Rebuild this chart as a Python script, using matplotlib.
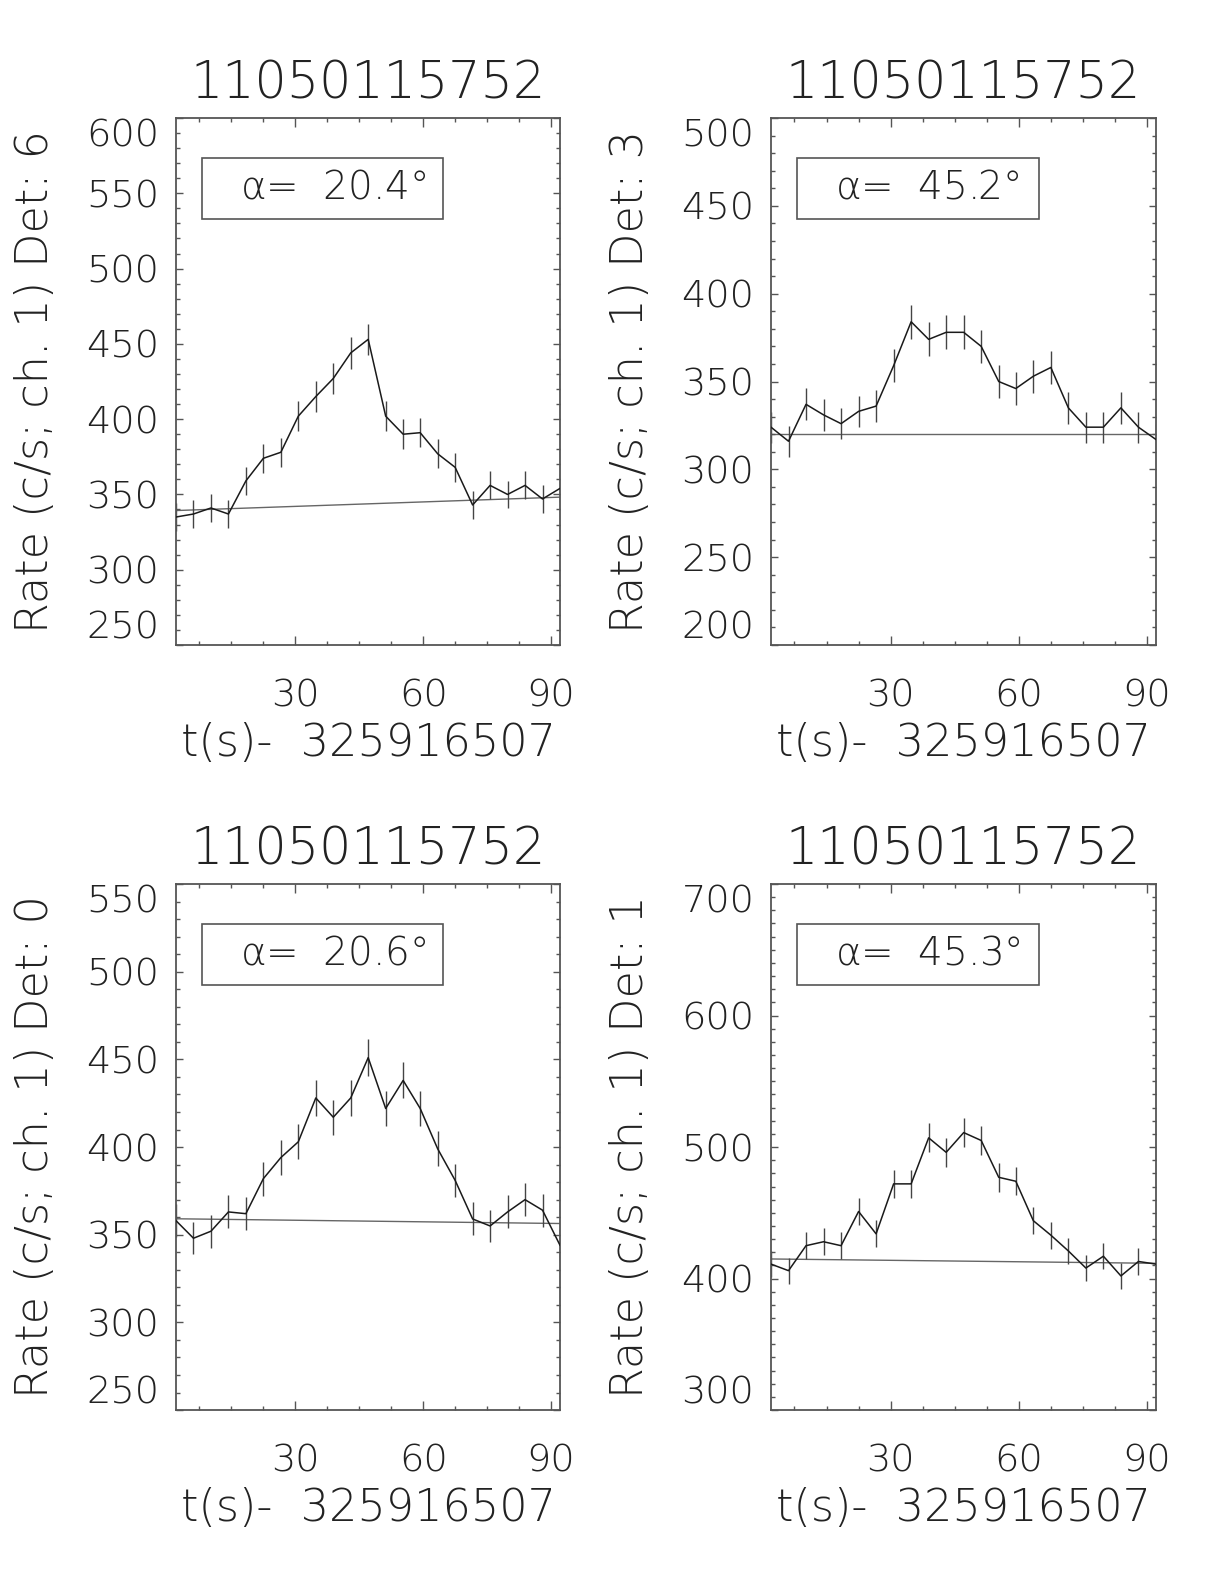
import matplotlib
matplotlib.use("Agg")
import matplotlib.pyplot as plt
from matplotlib.patches import Rectangle
from matplotlib.ticker import MultipleLocator

plt.rcParams["font.family"] = ["DejaVu Sans"]
plt.rcParams["font.weight"] = 200
plt.rcParams["axes.titleweight"] = 200
plt.rcParams["axes.labelweight"] = 200
plt.rcParams["mathtext.fontset"] = "custom"
plt.rcParams["mathtext.it"] = "DejaVu Sans:extralight"
plt.rcParams["mathtext.rm"] = "DejaVu Sans:extralight"

# time bins (s) after 325916507
T = [2.0, 6.1, 10.2, 14.3, 18.4, 22.5, 26.6, 30.7, 34.8, 38.9, 43.0, 47.1,
     51.2, 55.3, 59.3, 63.4, 67.5, 71.6, 75.7, 79.8, 83.9, 88.0, 92.1]

TITLE = "11050115752"
XLABEL = "t(s)-  325916507"

DETS = [6, 3, 0, 1]
ALPHAS = [20.4, 45.2, 20.6, 45.3]

RATE_D6 = [335, 337, 341, 337, 359, 374, 378, 402, 415, 427, 444, 453,
           402, 390, 391, 377, 368, 343, 356, 350, 356, 347, 354]
ERR_D6 = [9.0, 9.1, 9.1, 9.1, 9.4, 9.6, 9.6, 9.9, 10.1, 10.2, 10.4, 10.5,
          9.9, 9.8, 9.8, 9.6, 9.5, 9.2, 9.3, 9.2, 9.3, 9.2, 9.3]
BKG_D6 = [339.3, 348.2]

RATE_D3 = [324, 316, 337, 331, 326, 333, 336, 359, 384, 374, 378, 378,
           370, 350, 346, 353, 358, 335, 324, 324, 335, 324, 317]
ERR_D3 = [8.9, 8.8, 9.1, 9.0, 8.9, 9.0, 9.1, 9.4, 9.7, 9.6, 9.6, 9.6,
          9.5, 9.2, 9.2, 9.3, 9.3, 9.0, 8.9, 8.9, 9.0, 8.9, 8.8]
BKG_D3 = [320.0, 320.0]

RATE_D0 = [358, 348, 352, 363, 362, 382, 394, 403, 428, 417, 428, 451,
           422, 438, 422, 399, 381, 359, 355, 363, 370, 364, 344]
ERR_D0 = [9.3, 9.2, 9.3, 9.4, 9.4, 9.7, 9.8, 9.9, 10.2, 10.1, 10.2, 10.5,
          10.2, 10.3, 10.2, 9.9, 9.6, 9.4, 9.3, 9.4, 9.5, 9.4, 9.2]
BKG_D0 = [359.1, 356.4]

RATE_D1 = [411, 406, 425, 428, 425, 451, 434, 472, 472, 507, 496, 511,
           505, 477, 474, 444, 433, 421, 408, 417, 402, 413, 411]
ERR_D1 = [10.0, 10.0, 10.2, 10.2, 10.2, 10.5, 10.3, 10.7, 10.7, 11.1, 11.0, 11.2,
          11.1, 10.8, 10.8, 10.4, 10.3, 10.1, 10.0, 10.1, 9.9, 10.0, 10.0]
BKG_D1 = [414.9, 411.6]

RATES = [RATE_D6, RATE_D3, RATE_D0, RATE_D1]
ERRS = [ERR_D6, ERR_D3, ERR_D0, ERR_D1]
BKGS = [BKG_D6, BKG_D3, BKG_D0, BKG_D1]
YLIMS = [(250, 600), (200, 500), (250, 550), (300, 700)]
YSTEP = [50, 50, 50, 100]

FG = "#222222"
AX = "#555555"

# axes boxes in figure fractions (left, bottom, width, height)
POS = [(0.1438, 0.5928, 0.3137, 0.3327), (0.6299, 0.5928, 0.3145, 0.3327),
       (0.1438, 0.1098, 0.3137, 0.3321), (0.6299, 0.1098, 0.3145, 0.3321)]

fig = plt.figure(figsize=(12.24, 15.84), dpi=100)

for i in range(4):
    ax = fig.add_axes(POS[i])
    ax.plot(T, RATES[i], color="#1a1a1a", lw=1.1, zorder=3)
    ax.errorbar(T, RATES[i], yerr=ERRS[i], fmt="none", ecolor="#444444",
                elinewidth=1.0, capsize=0, zorder=2)
    ax.plot([T[0], T[-1]], BKGS[i], color="#666666", lw=1.0, zorder=1)

    ylo, yhi = YLIMS[i]
    ax.set_xlim(T[0], T[-1])
    ax.set_ylim(ylo, yhi)
    ax.xaxis.set_major_locator(MultipleLocator(30))
    ax.xaxis.set_minor_locator(MultipleLocator(7.5))
    ax.yaxis.set_major_locator(MultipleLocator(YSTEP[i]))
    ax.yaxis.set_minor_locator(MultipleLocator(10))
    ax.tick_params(which="both", direction="in", top=True, right=True,
                   colors=AX, labelcolor=FG, width=1.0)
    ax.tick_params(axis="x", which="major", length=6.5, pad=24, labelsize=27.5)
    ax.tick_params(axis="x", which="minor", length=3)
    ax.tick_params(axis="y", which="major", length=5, pad=12, labelsize=27.5)
    ax.tick_params(axis="y", which="minor", length=3)
    for s in ax.spines.values():
        s.set_color(AX)
        s.set_linewidth(1.3)

    # keep the end labels inside the frame, as the original does
    fig.canvas.draw()
    for lab in ax.get_yticklabels():
        yv = lab.get_position()[1]
        if abs(yv - ylo) < 1e-6:
            lab.set_va("bottom")
        elif abs(yv - yhi) < 1e-6:
            lab.set_va("top")

    ax.set_title(TITLE, fontsize=36.5, color=FG, pad=14)
    ax.set_xlabel(XLABEL, fontsize=32, color=FG, labelpad=6)
    ax.set_ylabel(f"Rate (c/s; ch. 1) Det: {DETS[i]}", fontsize=32, color=FG,
                  va="center")
    ax.yaxis.set_label_coords(-0.365, 0.5)

    ax.add_patch(Rectangle((0.067, 0.808), 0.628, 0.116, transform=ax.transAxes,
                           fill=False, edgecolor=AX, lw=1.2, zorder=4))
    ax.text(0.167, 0.868, rf"$\alpha$=  {ALPHAS[i]:.1f}°", transform=ax.transAxes,
            fontsize=28, color=FG, va="center", ha="left", zorder=5)

fig.savefig("out.png", dpi=100)
